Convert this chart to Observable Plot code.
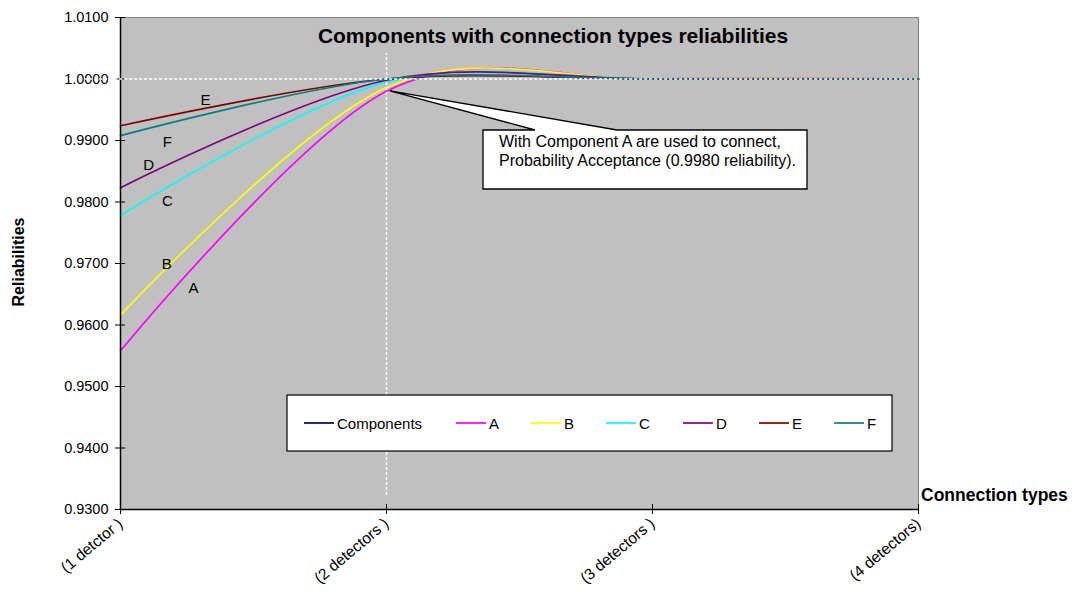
<!DOCTYPE html>
<html><head><meta charset="utf-8">
<script src="https://cdn.jsdelivr.net/npm/d3@7"></script>
<script src="https://cdn.jsdelivr.net/npm/@observablehq/plot@0.6"></script>
<style>
body{margin:0;background:#fff;}
#chart{position:relative;width:1078px;height:592px;}
</style>
</head><body><div id="chart"></div>
<script>
// ---- data ----
const connectionX = [1, 2, 3, 4];
const connectionLabels = ["(1 detctor )", "(2 detectors )", "(3 detectors )", "(4 detectors)"];
const seriesNames = ["Components", "A", "B", "C", "D", "E", "F"];
const seriesColors = ["#000080", "#FF00FF", "#FFFF00", "#00FFFF", "#800080", "#800000", "#008080"];
const valuesA = [0.9558, 0.9980, 1.0000, 1.0000];
const valuesB = [0.9616, 0.9986, 1.0000, 1.0000];
const valuesC = [0.9778, 0.9995, 1.0000, 1.0000];
const valuesD = [0.9823, 0.9998, 1.0000, 1.0000];
const valuesE = [0.9924, 1.0000, 1.0000, 1.0000];
const valuesF = [0.9908, 1.0000, 1.0000, 1.0000];
const yTicks = [0.93, 0.94, 0.95, 0.96, 0.97, 0.98, 0.99, 1.00, 1.01];
const curveLabels = ["E", "F", "D", "C", "B", "A"];
const curveLabelX = [1.320, 1.176, 1.106, 1.176, 1.174, 1.274];
const curveLabelY = [0.99662, 0.9898, 0.98606, 0.98021, 0.96993, 0.96603];
const titleText = "Components with connection types reliabilities";
const yTitle = "Reliabilities";
const xTitle = "Connection types";
const calloutLines = ["With Component A are used to connect,", "Probability Acceptance (0.9980 reliability)."];
const calloutValue = 0.9980;

// ---- build table ----
const seriesValues = {A: valuesA, B: valuesB, C: valuesC, D: valuesD, E: valuesE, F: valuesF};
const rows = [];
for (const name of ["A", "B", "C", "D", "E", "F"]) {
  seriesValues[name].forEach((v, i) => rows.push({series: name, x: connectionX[i], y: v}));
}
const labelRows = curveLabels.map((t, i) => ({t, x: curveLabelX[i], y: curveLabelY[i]}));

const FONT = "'Liberation Sans', Arial, sans-serif";

const chart = Plot.plot({
  width: 1078, height: 592,
  marginLeft: 120, marginRight: 160, marginTop: 17, marginBottom: 83,
  style: {fontFamily: FONT, fontSize: "14px", color: "#000", background: "#fff", overflow: "visible"},
  x: {domain: [1, 4]},
  y: {domain: [0.93, 1.01]},
  color: {domain: seriesNames, range: seriesColors},
  marks: [
    Plot.frame({fill: "#C0C0C0", stroke: "#808080"}),
    Plot.line(rows, {x: "x", y: "y", z: "series", stroke: "series", curve: "cardinal", strokeWidth: 1.7}),
    Plot.text(labelRows, {x: "x", y: "y", text: "t", fontSize: 15, fill: "#000"}),
    Plot.ruleX([1], {stroke: "#000", strokeWidth: 1.5}),
    Plot.ruleY([0.93], {stroke: "#000", strokeWidth: 1.5}),
    Plot.axisY({ticks: yTicks, tickFormat: d3.format(".4f"), tickSize: 10, dx: 5, tickPadding: 7, fontSize: 14.5, label: null, stroke: "#000"}),
    Plot.axisX({ticks: connectionX, tickFormat: d => connectionLabels[connectionX.indexOf(d)], tickRotate: -40, tickSize: 10, dy: -5, tickPadding: 7, fontSize: 15.5, label: null, stroke: "#000"}),
    Plot.ruleY([1.0], {x1: 0.79, x2: 4, stroke: "#fff", strokeWidth: 1.5, strokeDasharray: "3,2"}),
    Plot.ruleX([2], {y1: 0.93227, y2: 1.0041, stroke: "#fff", strokeWidth: 1.5, strokeDasharray: "3,2"})
  ]
});
document.getElementById("chart").appendChild(chart);

// ---- annotations (overlay inside same svg) ----
const xs = chart.scale("x"), ys = chart.scale("y");
const svg = d3.select(chart);
const g = svg.append("g").attr("font-family", FONT).attr("text-anchor", "start");

// title
g.append("text").attr("x", 553).attr("y", 43).attr("text-anchor", "middle")
  .attr("font-size", 21).attr("font-weight", "bold").text(titleText);
// y title
g.append("text").attr("transform", "translate(24,262) rotate(-90)").attr("text-anchor", "middle")
  .attr("font-size", 16).attr("font-weight", "bold").text(yTitle);
// x title
g.append("text").attr("x", 921).attr("y", 501).attr("text-anchor", "start")
  .attr("font-size", 17.5).attr("font-weight", "bold").text(xTitle);

// callout
const tipX = xs.apply(2) + 4, tipY = ys.apply(calloutValue);
const bx0 = 483, bx1 = 807, by0 = 130, by1 = 189;
g.append("path")
  .attr("d", `M${tipX},${tipY} L535,${by0} L${bx0},${by0} L${bx0},${by1} L${bx1},${by1} L${bx1},${by0} L617,${by0} Z`)
  .attr("fill", "#fff").attr("stroke", "#000").attr("stroke-width", 1.3);
calloutLines.forEach((t, i) => {
  g.append("text").attr("x", 499).attr("y", 147 + i * 18.5).attr("text-anchor", "start")
    .attr("font-size", 16).text(t);
});

// legend
const lg = g.append("g");
lg.append("rect").attr("x", 287).attr("y", 395).attr("width", 605).attr("height", 56)
  .attr("fill", "#fff").attr("stroke", "#000").attr("stroke-width", 1.2);
const legendStart = [304, 456, 531, 606, 683, 759, 834];
seriesNames.forEach((name, i) => {
  const x0 = legendStart[i];
  lg.append("line").attr("x1", x0).attr("x2", x0 + 30).attr("y1", 423).attr("y2", 423)
    .attr("stroke", seriesColors[i]).attr("stroke-width", 1.7);
  lg.append("text").attr("x", x0 + 33).attr("y", 428.5).attr("text-anchor", "start")
    .attr("font-size", 15).text(name);
});
</script>
</body></html>
